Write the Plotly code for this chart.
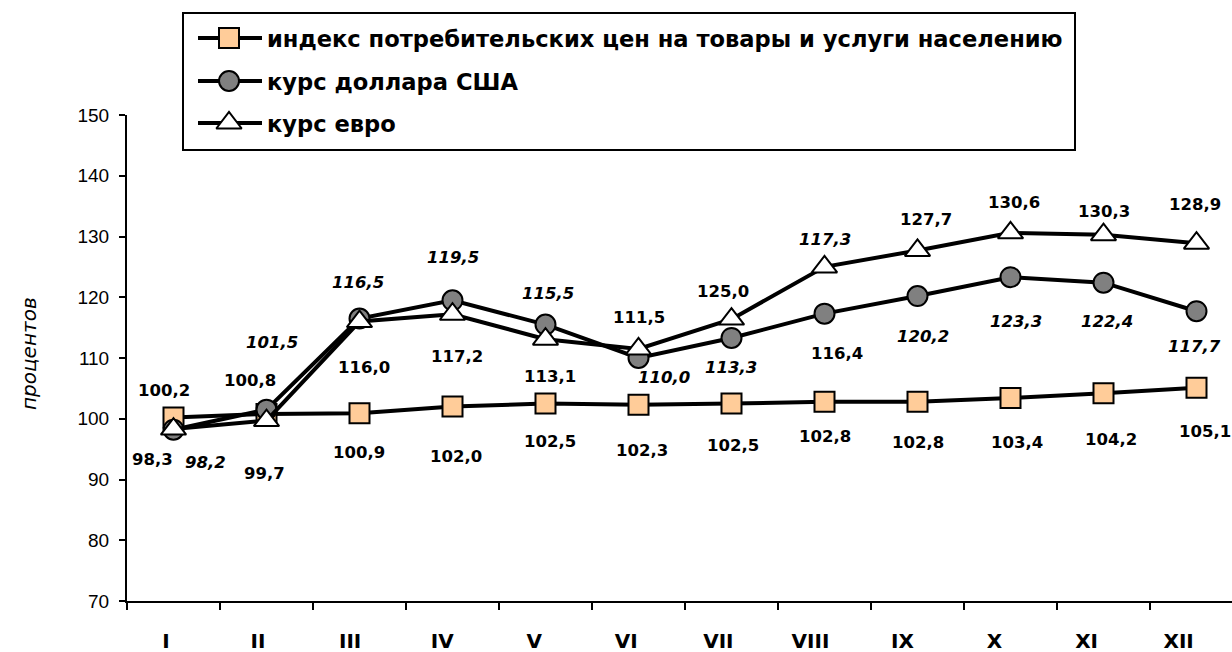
import plotly.graph_objects as go

# Months of the year (Roman numerals)
months = ["I", "II", "III", "IV", "V", "VI", "VII", "VIII", "IX", "X", "XI", "XII"]

# Percent of December of the previous year
cpi = [100.2, 100.8, 100.9, 102.0, 102.5, 102.3, 102.5, 102.8, 102.8, 103.4, 104.2, 105.1]
usd = [98.2, 101.5, 116.5, 119.5, 115.5, 110.0, 113.3, 117.3, 120.2, 123.3, 122.4, 117.7]
eur = [98.3, 99.7, 116.0, 117.2, 113.1, 111.5, 116.4, 125.0, 127.7, 130.6, 130.3, 128.9]

series_names = [
    "индекс потребительских цен на товары и услуги населению",
    "курс доллара США",
    "курс евро",
]
y_title = "процентов"

# Value-label placement: pixel offsets (dx right, dy down) from each marker
cpi_label_off = [(-10, -27), (-17, -33), (-1, 39), (3, 50), (4, 38), (3, 46),
                 (1, 42), (0, 35), (0, 41), (6, 44), (7, 46), (8, 44)]
usd_label_off = [(32, 33), (5, -67), (-2, -36), (0, -43), (2, -31), (25, 19),
                 (-1, 30), (0, -74), (5, 40), (5, 44), (3, 39), (-2, 35)]
eur_label_off = [(-21, 30), (-2, 53), (4, 46), (4, 42), (4, 37), (0, -31),
                 (105, 34), (-102, 25), (8, -31), (3, -30), (0, -23), (-2, -39)]

W, H = 1232, 652
FONT = "DejaVu Sans"
TICK_FONT = "Liberation Sans"

styles = [
    dict(symbol="square", size=20, color="#FFCC99"),
    dict(symbol="circle", size=20, color="#808080"),
    dict(symbol="triangle-up", size=22, color="#FFFFFF"),
]
label_italic = [False, True, False]


def fmt(v):
    return f"{v:.1f}".replace(".", ",")


fig = go.Figure()

# Data series
for name, vals, st in zip(series_names, [cpi, usd, eur], styles):
    fig.add_trace(go.Scatter(
        x=months, y=vals, mode="lines+markers", name=name,
        line=dict(color="black", width=4),
        marker=dict(symbol=st["symbol"], size=st["size"], color=st["color"],
                    line=dict(color="black", width=2)),
        showlegend=False, cliponaxis=False, hoverinfo="skip",
    ))

# Carrier trace for the tick-label axis
fig.add_trace(go.Scatter(x=[None], y=[None], xaxis="x2", yaxis="y",
                         showlegend=False, hoverinfo="skip"))

annotations = []
for vals, offs, ital in zip([cpi, usd, eur],
                            [cpi_label_off, usd_label_off, eur_label_off],
                            label_italic):
    for m, v, (dx, dy) in zip(months, vals, offs):
        annotations.append(dict(
            x=m, y=v, xref="x", yref="y", text=fmt(v), showarrow=False,
            xshift=dx, yshift=-dy, xanchor="center", yanchor="middle",
            font=dict(family=FONT, size=16.5, color="black", weight="bold",
                      style="italic" if ital else "normal"),
        ))

# Legend drawn in pixel space on a full-figure overlay
legend_rows = [38, 81, 123]
for k, (name, st) in enumerate(zip(series_names, styles)):
    ly = legend_rows[k]
    fig.add_trace(go.Scatter(
        x=[198, 262], y=[ly, ly], mode="lines", xaxis="x3", yaxis="y3",
        line=dict(color="black", width=4), showlegend=False, hoverinfo="skip"))
    fig.add_trace(go.Scatter(
        x=[229], y=[ly], mode="markers", xaxis="x3", yaxis="y3",
        marker=dict(symbol=st["symbol"], size=st["size"], color=st["color"],
                    line=dict(color="black", width=2)),
        showlegend=False, hoverinfo="skip"))
    annotations.append(dict(
        x=265 / W, y=1 - (ly + 1) / H, xref="paper", yref="paper", text=name,
        showarrow=False, xanchor="left", yanchor="middle",
        font=dict(family=FONT, size=22.6, color="black", weight="bold"),
    ))

annotations.append(dict(
    x=29 / W, y=1 - 354 / H, xref="paper", yref="paper", text=y_title,
    showarrow=False, textangle=-90, xanchor="center", yanchor="middle",
    font=dict(family=FONT, size=20, color="black", style="italic"),
))

shapes = [dict(type="rect", xref="paper", yref="paper",
               x0=183 / W, x1=1075 / W, y0=1 - 150 / H, y1=1 - 13 / H,
               line=dict(color="black", width=2), fillcolor="rgba(0,0,0,0)")]

x_left = 127
y_top, y_bot = 115, 601
cat_px = 93.0
x_span = (W - x_left) / cat_px

fig.update_layout(
    width=W, height=H,
    margin=dict(l=0, r=0, t=0, b=0, autoexpand=False),
    paper_bgcolor="white", plot_bgcolor="rgba(0,0,0,0)",
    showlegend=False,
    xaxis=dict(
        domain=[x_left / W, 1], anchor="y", type="category",
        categoryorder="array", categoryarray=months,
        range=[-0.5, -0.5 + x_span], tickson="boundaries",
        ticks="outside", ticklen=7, tickwidth=2, tickcolor="black",
        showline=True, linewidth=2, linecolor="black",
        showticklabels=False, showgrid=False, zeroline=False,
        fixedrange=True, automargin=False,
    ),
    xaxis2=dict(
        overlaying="x", anchor="y", side="bottom",
        range=[-0.4236, -0.4236 + (W - x_left) / 92.06],
        tickmode="array", tickvals=list(range(12)), ticktext=months,
        ticks="", showline=False, showgrid=False, zeroline=False,
        tickfont=dict(family=FONT, size=20, color="black", weight="bold"),
        ticklabelstandoff=26, fixedrange=True, automargin=False,
    ),
    yaxis=dict(
        domain=[(H - y_bot) / H, (H - y_top) / H], anchor="x",
        range=[70, 150], tickmode="linear", tick0=70, dtick=10,
        ticks="outside", ticklen=6, tickwidth=2, tickcolor="black",
        showline=True, linewidth=2, linecolor="black",
        showgrid=False, zeroline=False,
        tickfont=dict(family=TICK_FONT, size=19, color="black"),
        ticklabelstandoff=6, fixedrange=True, automargin=False,
    ),
    xaxis3=dict(domain=[0, 1], anchor="y3", range=[0, W], visible=False,
                fixedrange=True, automargin=False),
    yaxis3=dict(domain=[0, 1], anchor="x3", range=[H, 0], visible=False,
                fixedrange=True, automargin=False),
    annotations=annotations,
    shapes=shapes,
)

fig.write_html("out.html")
